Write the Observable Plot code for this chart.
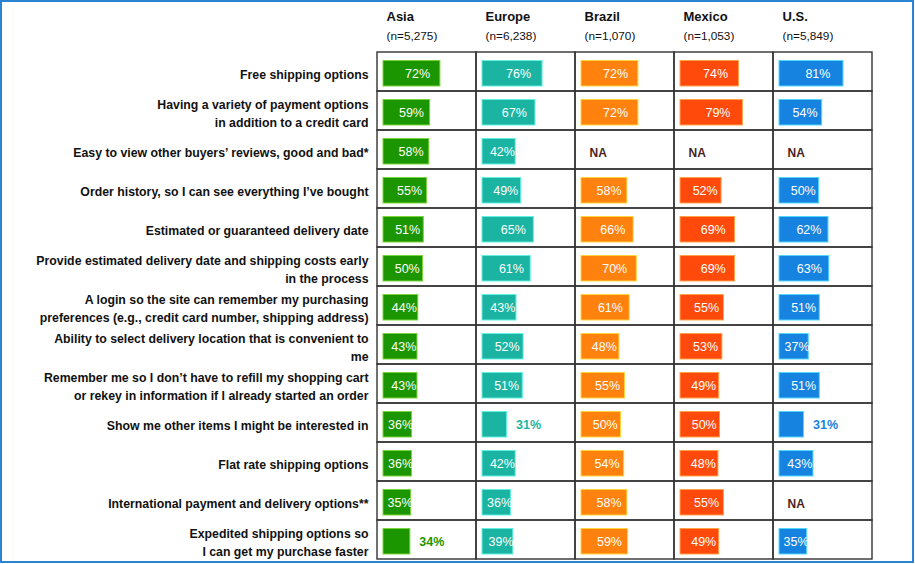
<!DOCTYPE html>
<html><head><meta charset="utf-8">
<script src="https://cdn.jsdelivr.net/npm/d3@7"></script>
<script src="https://cdn.jsdelivr.net/npm/@observablehq/plot@0.6"></script>
<style>
body{margin:0;background:#fff;}
#wrap{position:relative;width:915px;height:564px;overflow:hidden;background:#fff;}
#wrap svg{position:absolute;left:0;top:0;}
#border{position:absolute;left:0;top:0;width:914px;height:563px;box-sizing:border-box;border:2px solid #2b83d3;pointer-events:none;}
</style></head><body><div id="wrap"><div id="border"></div></div>
<script>
const regions = ["Asia", "Europe", "Brazil", "Mexico", "U.S."];
const sampleSizes = ["(n=5,275)", "(n=6,238)", "(n=1,070)", "(n=1,053)", "(n=5,849)"];
const attributes = [
  "Free shipping options",
  "Having a variety of payment options\nin addition to a credit card",
  "Easy to view other buyers’ reviews, good and bad*",
  "Order history, so I can see everything I’ve bought",
  "Estimated or guaranteed delivery date",
  "Provide estimated delivery date and shipping costs early\nin the process",
  "A login so the site can remember my purchasing\npreferences (e.g., credit card number, shipping address)",
  "Ability to select delivery location that is convenient to\nme",
  "Remember me so I don’t have to refill my shopping cart\nor rekey in information if I already started an order",
  "Show me other items I might be interested in",
  "Flat rate shipping options",
  "International payment and delivery options**",
  "Expedited shipping options so\nI can get my purchase faster"
];
const asiaValues   = [72, 59, 58, 55, 51, 50, 44, 43, 43, 36, 36, 35, 34];
const europeValues = [76, 67, 42, 49, 65, 61, 43, 52, 51, 31, 42, 36, 39];
const brazilValues = [72, 72, null, 58, 66, 70, 61, 48, 55, 50, 54, 58, 59];
const mexicoValues = [74, 79, null, 52, 69, 69, 55, 53, 49, 50, 48, 55, 49];
const usValues     = [81, 54, null, 50, 62, 63, 51, 37, 51, 31, 43, null, 35];

const seriesList = [asiaValues, europeValues, brazilValues, mexicoValues, usValues];
const fills   = ["#1b9500", "#1bb4a2", "#ff810e", "#ff4a0b", "#1683e0"];
const borders = ["#7ad43c", "#62f0e4", "#ffd43c", "#ffa34a", "#52d8ff"];

const rows = [];
regions.forEach((r, i) => attributes.forEach((a, j) => rows.push({region: r, attr: a, value: seriesList[i][j]})));
const headers = regions.map((r, i) => ({region: r, n: sampleSizes[i]}));
const labelRows = attributes.map(a => ({region: regions[0], attr: a}));

const font = "'Liberation Sans',Arial,sans-serif";

const marks = [
  Plot.cell(rows, {fx: "region", y: "attr", fill: "none", stroke: "#333", strokeWidth: 1.4}),
];
regions.forEach((r, i) => {
  const data = rows.filter(d => d.region === r && d.value != null);
  marks.push(Plot.barX(data, {fx: "region", y: "attr", x1: d => 0, x2: "value", fill: fills[i], stroke: borders[i], strokeWidth: 1, insetTop: 8.5, insetBottom: 5}));
  marks.push(Plot.text(data.filter(d => d.value < 35), {fx: "region", y: "attr", x: "value", text: d => d.value + "%", textAnchor: "start", dx: 9, dy: 2, fill: fills[i], fontWeight: "bold", fontSize: 12.5}));
});
marks.push(Plot.text(rows.filter(d => d.value != null && d.value >= 35), {fx: "region", y: "attr", x: d => d.value * 0.6, text: d => d.value + "%", fill: "white", fontSize: 12.5, dy: 2}));
marks.push(Plot.text(rows.filter(d => d.value == null), {fx: "region", y: "attr", x: d => 0, text: d => "NA", textAnchor: "start", dx: 8, dy: 3, fill: "#4b1f1f", fontWeight: "bold", fontSize: 12}));
marks.push(Plot.text(labelRows, {fx: "region", y: "attr", text: "attr", frameAnchor: "left", textAnchor: "end", dx: -9, dy: 1, fontWeight: "bold", fontSize: 12.3, lineHeight: 1.45, fill: "#111"}));
marks.push(Plot.text(headers, {fx: "region", text: "region", frameAnchor: "top-left", textAnchor: "start", lineAnchor: "middle", dx: 9, dy: -34, fontWeight: "bold", fontSize: 13, fill: "#111"}));
marks.push(Plot.text(headers, {fx: "region", text: "n", frameAnchor: "top-left", textAnchor: "start", lineAnchor: "middle", dx: 9, dy: -14.5, fontSize: 11.8, fill: "#111"}));

const chart = Plot.plot({
  width: 915, height: 564,
  marginLeft: 377, marginRight: 43, marginTop: 50, marginBottom: 4,
  style: {fontFamily: font, background: "transparent", overflow: "visible"},
  fx: {domain: regions, padding: 0, axis: null},
  x: {domain: [-7.6, 117.7], axis: null},
  y: {domain: attributes, padding: 0, axis: null},
  marks
});
document.getElementById("wrap").prepend(chart);
</script>
</body></html>
